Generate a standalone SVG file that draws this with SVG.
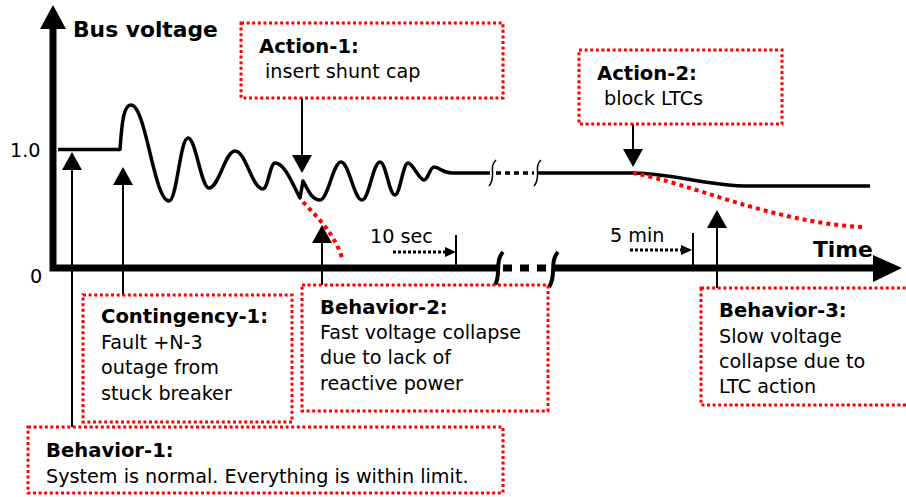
<svg xmlns="http://www.w3.org/2000/svg" width="906" height="497" viewBox="0 0 906 497">
<defs>
<style>
text{font-family:"DejaVu Sans","Liberation Sans",sans-serif;fill:#000;}
.t{font-size:19.2px;}
.b{font-size:19.6px;font-weight:bold;}
.big{font-size:21.8px;font-weight:bold;}
.box{fill:#fff;stroke:#f00;stroke-width:3;stroke-dasharray:3 2.6;}
.wave{fill:none;stroke:#000;stroke-width:3.5;stroke-linejoin:round;}
.axis{fill:none;stroke:#000;stroke-width:7;}
.red{fill:none;stroke:#f00;stroke-width:4;stroke-dasharray:4 4;}
.arr{stroke:#000;stroke-width:2;fill:none;}
.dot{stroke:#000;stroke-width:3;stroke-dasharray:3 2;fill:none;}
.sq{fill:none;stroke:#000;stroke-width:1.5;}
.sqk{fill:none;stroke:#000;stroke-width:4;}
</style>
<marker id="ah" viewBox="0 0 18 20" refX="0" refY="10" markerWidth="18" markerHeight="20" markerUnits="userSpaceOnUse" orient="auto">
<path d="M0,0 L18,10 L0,20 z" fill="#000"/>
</marker>
<marker id="as" viewBox="0 0 11 10" refX="0" refY="5" markerWidth="11" markerHeight="10" markerUnits="userSpaceOnUse" orient="auto">
<path d="M0,0 L11,5 L0,10 z" fill="#000"/>
</marker>
</defs>
<rect width="906" height="497" fill="#fff"/>

<g id="axes">
<path class="axis" d="M53,28 V268 H497"/>
<path class="axis" d="M553,268 H875"/>
<path d="M503,268 H546" stroke="#000" stroke-width="7" stroke-dasharray="9 8"/>
<path class="sqk" d="M503,252 C494,262 502,276 494,287"/>
<path class="sqk" d="M558,252 C549,262 557,276 549,287"/>
<polygon points="53,5 66,29 40,29" fill="#000"/>
<polygon points="902,268 873,255 873,282" fill="#000"/>
<text class="big" x="73" y="37">Bus voltage</text>
<text class="big" x="813" y="257">Time</text>
<text class="t" x="10" y="157">1.0</text>
<text class="t" x="30" y="283">0</text>
</g>

<g id="curves">
<path class="wave" d="M58,149.5 L120,149.5 C122,120 124,105 131,105 C146,105 154,201 169,201 C177,201 180,138 188,138 C196,138 201,188 209,188 C219,188 225,151 235,151 C246,151 252,189 263,189 C268,189 270,163 275,163 C285,163 293,185 300,198 L303,181 C308,190 312,200 320,200 C328,200 333,162 341,162 C349,162 354,200 362,200 C369,200 373,162 380,162 C386,162 389,195 395,195 C400,195 403,163 408,163 C413,163 419,180 424,180 C428,180 430,167 434,167 C440,167 442,173 452,173 L490,173"/>
<path d="M496,173 H534" stroke="#000" stroke-width="3.5" stroke-dasharray="5 4"/>
<path class="sq" d="M496,160 C488,167 497,177 489,186"/>
<path class="sq" d="M541,160 C533,167 542,177 534,186"/>
<path class="wave" d="M538,173 L633,173 C680,174 705,186 750,186 L870,186"/>
<path class="red" d="M303,202 C320,220 335,235 342,258"/>
<path class="red" d="M633,173 C690,183 770,222 862,227"/>
</g>

<g id="timing">
<path class="dot" d="M393,252 H445" marker-end="url(#as)"/>
<path class="arr" d="M456,235 V268" stroke-width="1.5"/>
<text class="t" x="370" y="243">10 sec</text>
<path class="dot" d="M630,250 H681" marker-end="url(#as)"/>
<path class="arr" d="M693,233 V268" stroke-width="1.5"/>
<text class="t" x="610" y="242">5 min</text>
</g>

<g id="connectors">
<path class="arr" d="M72,427 V170" marker-end="url(#ah)"/>
<path class="arr" d="M123,295 V185" marker-end="url(#ah)"/>
<path class="arr" d="M302,98 V155" marker-end="url(#ah)"/>
<path class="arr" d="M322,285 V243" marker-end="url(#ah)"/>
<path class="arr" d="M633,124 V149" marker-end="url(#ah)"/>
<path class="arr" d="M717,288 V228" marker-end="url(#ah)"/>
</g>

<g id="action1">
<rect class="box" x="241" y="23" width="262" height="75"/>
<text class="b" x="259" y="53">Action-1:</text>
<text class="t" x="265" y="78">insert shunt cap</text>
</g>

<g id="action2">
<rect class="box" x="579" y="50" width="203" height="74"/>
<text class="b" x="597" y="80">Action-2:</text>
<text class="t" x="604" y="105">block LTCs</text>
</g>

<g id="contingency1">
<rect class="box" x="83" y="295" width="209" height="127"/>
<text class="b" x="101" y="323">Contingency-1:</text>
<text class="t" x="101" y="349">Fault +N-3</text>
<text class="t" x="101" y="374">outage from</text>
<text class="t" x="101" y="400">stuck breaker</text>
</g>

<g id="behavior2">
<rect class="box" x="302" y="285" width="246" height="126"/>
<text class="b" x="320" y="314">Behavior-2:</text>
<text class="t" x="320" y="339">Fast voltage collapse</text>
<text class="t" x="320" y="364">due to lack of</text>
<text class="t" x="320" y="390">reactive power</text>
</g>

<g id="behavior1">
<rect class="box" x="28" y="427" width="475" height="66"/>
<text class="b" x="46" y="457">Behavior-1:</text>
<text class="t" x="46" y="483">System is normal. Everything is within limit.</text>
</g>

<g id="behavior3">
<rect class="box" x="701" y="288" width="212" height="117"/>
<text class="b" x="719" y="317">Behavior-3:</text>
<text class="t" x="719" y="343">Slow voltage</text>
<text class="t" x="719" y="368">collapse due to</text>
<text class="t" x="719" y="393">LTC action</text>
</g>
</svg>
